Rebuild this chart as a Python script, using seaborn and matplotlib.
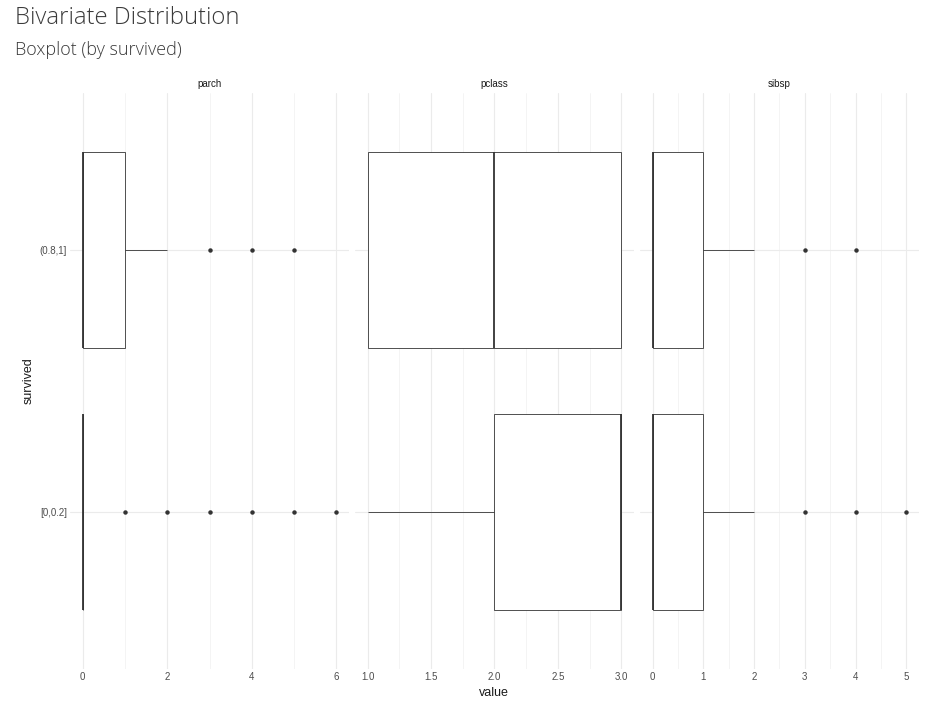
import numpy as np
import pandas as pd
import matplotlib
matplotlib.use('Agg')
import matplotlib.pyplot as plt
from matplotlib.ticker import MultipleLocator, FormatStrFormatter
import seaborn as sns

# ── Data: value counts per group ──
groups = ['(0.8,1]', '[0,0.2]']
variables = ['parch', 'pclass', 'sibsp']

parch_levels = [0, 1, 2, 3, 4, 5, 6]
parch_surv = [233, 65, 40, 2, 1, 1, 0]
parch_died = [445, 53, 40, 2, 3, 4, 1]

pclass_levels = [1, 2, 3]
pclass_surv = [136, 87, 119]
pclass_died = [80, 97, 372]

sibsp_levels = [0, 1, 2, 3, 4, 5]
sibsp_surv = [210, 112, 13, 4, 3, 0]
sibsp_died = [398, 97, 15, 12, 15, 5]

counts = {
    'parch': (parch_levels, parch_surv, parch_died),
    'pclass': (pclass_levels, pclass_surv, pclass_died),
    'sibsp': (sibsp_levels, sibsp_surv, sibsp_died),
}

rows = []
for var, (lv, s, d) in counts.items():
    for g, c in zip(groups, [s, d]):
        vals = np.repeat(lv, c)
        rows.append(pd.DataFrame({'variable': var, 'survived': g, 'value': vals}))
df = pd.concat(rows, ignore_index=True)

sns.set_theme(style='whitegrid')
plt.rcParams['font.family'] = ['Liberation Sans', 'DejaVu Sans']

fig, axes = plt.subplots(1, 3, figsize=(9.48, 7.15), dpi=100, sharey=True)
fig.subplots_adjust(left=0.0738, right=0.9694, bottom=0.0643, top=0.870, wspace=0.021)

major = {'parch': 2, 'pclass': 0.5, 'sibsp': 1}
fmt = {'parch': '%d', 'pclass': '%.1f', 'sibsp': '%d'}

for ax, var in zip(axes, variables):
    sub = df[df['variable'] == var]
    sns.boxplot(data=sub, x='value', y='survived', order=groups, ax=ax,
                orient='h', width=0.75, whis=1.5, color='white',
                linecolor='#333333', linewidth=0.6, showcaps=False,
                flierprops=dict(marker='o', markersize=2.2,
                                markerfacecolor='#333333',
                                markeredgecolor='#333333'),
                medianprops=dict(linewidth=1.3, color='#333333'))
    # stacked outliers at the same value drawn once (avoids blotchy dots)
    for ln in ax.lines:
        if ln.get_marker() == 'o':
            xy = np.unique(np.column_stack(ln.get_data()), axis=0)
            if len(xy):
                ln.set_data(xy[:, 0], xy[:, 1])
    lo, hi = sub['value'].min(), sub['value'].max()
    pad = (hi - lo) * 0.05
    ax.set_xlim(lo - pad, hi + pad)
    ax.set_ylim(1.6, -0.6)
    ax.xaxis.set_major_locator(MultipleLocator(major[var]))
    ax.xaxis.set_minor_locator(MultipleLocator(major[var] / 2))
    ax.xaxis.set_major_formatter(FormatStrFormatter(fmt[var]))
    ax.grid(which='major', color='#ebebeb', linewidth=0.8)
    ax.grid(which='minor', axis='x', color='#f3f3f3', linewidth=0.6)
    ax.set_axisbelow(True)
    for sp in ax.spines.values():
        sp.set_visible(False)
    ax.tick_params(axis='both', which='both', length=0, labelsize=7,
                   labelcolor='#4d4d4d', pad=2)
    ax.set_xlabel('')
    ax.set_ylabel('')
    ax.set_title(var, fontsize=7, color='#1a1a1a', pad=4)

axes[0].set_ylabel('survived', fontsize=9, color='#1a1a1a', labelpad=4)
fig.text(0.521, 0.031, 'value', ha='center', va='center', fontsize=9, color='#1a1a1a')

fig.text(0.016, 0.975, 'Bivariate Distribution', ha='left', va='center',
         fontsize=17.2, color='#3a3a3a', family=['Open Sans', 'DejaVu Sans'],
         fontweight='light')
fig.text(0.016, 0.930, 'Boxplot (by survived)', ha='left', va='center',
         fontsize=13, color='#3a3a3a', family=['Open Sans', 'DejaVu Sans'],
         fontweight='light')

fig.savefig('out.png', dpi=100, facecolor='white')
